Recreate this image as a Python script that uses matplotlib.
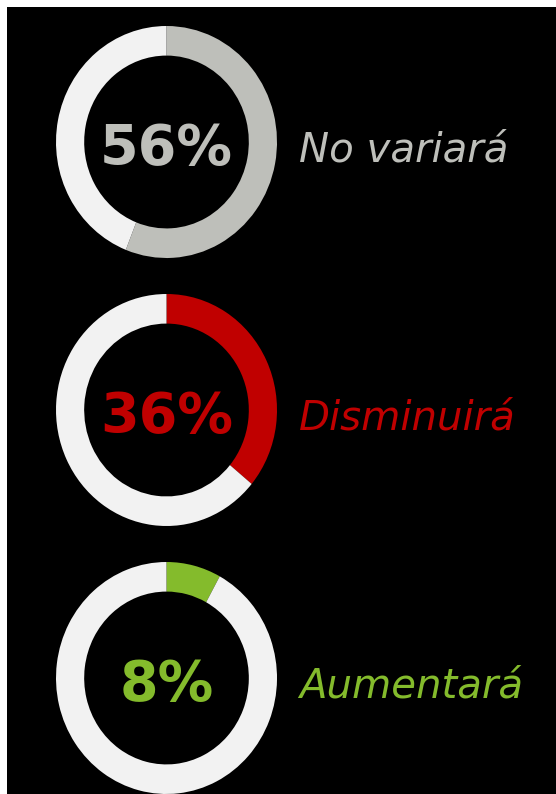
import matplotlib.pyplot as plt
from matplotlib.patches import Rectangle

# chart data
labels = ["No variará", "Disminuirá", "Aumentará"]
values = [56, 36, 8]
colors = ["#bebfba", "#c00000", "#84bb2c"]
track_color = "#f2f2f2"

W, H = 556, 794


def main():
    fig = plt.figure(figsize=(W / 100, H / 100), dpi=100, facecolor="white")
    # black panel with a thin white margin on the left and top
    fig.patches.append(Rectangle((7 / W, 0), 1, 787 / H, transform=fig.transFigure,
                                 facecolor="black", edgecolor="none", zorder=-10))

    cx, rx, ry = 166.5, 110.5, 116
    for i, (lab, val, col) in enumerate(zip(labels, values, colors)):
        cy = 142 + 268 * i
        ax = fig.add_axes([(cx - rx) / W, (H - cy - ry) / H, 2 * rx / W, 2 * ry / H])
        ax.pie([val, 100 - val], colors=[col, track_color], startangle=90,
               counterclock=False, radius=1,
               wedgeprops=dict(width=0.255, linewidth=0))
        ax.set_xlim(-1, 1)
        ax.set_ylim(-1, 1)
        ax.set_aspect("auto")
        ax.axis("off")

        # percentage in the middle of the ring
        ax.text(0, -0.06, "%d%%" % val, color=col, fontsize=40, fontweight="bold",
                ha="center", va="center", family="DejaVu Sans")
        # category name to the right
        ax.text((299 - cx) / rx, -20 / ry, lab, color=col, fontsize=29,
                style="italic", ha="left", va="baseline", family="DejaVu Sans")

    fig.savefig("out.png", dpi=100, facecolor="white")


if __name__ == "__main__":
    main()
